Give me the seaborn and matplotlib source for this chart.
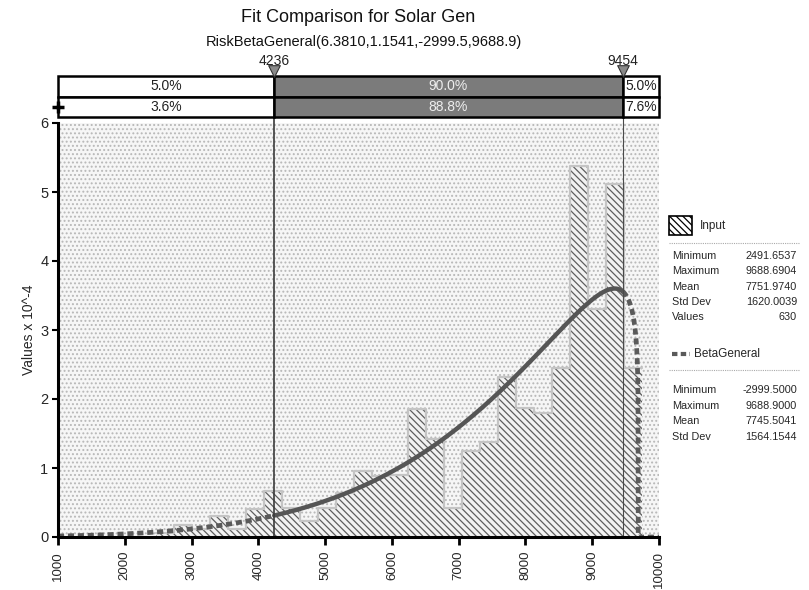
import math
import numpy as np
import pandas as pd
import matplotlib
matplotlib.use("Agg")
import matplotlib.pyplot as plt
from matplotlib.patches import Rectangle
from matplotlib.lines import Line2D
import seaborn as sns

sns.set_theme(style="white")
plt.rcParams['font.family'] = ['Liberation Sans', 'DejaVu Sans']
plt.rcParams['hatch.linewidth'] = 0.9

# ---- data -------------------------------------------------------------
# Input sample histogram: bin edges and density (x 10^-4)
bin_edges = [2475, 2744, 3013, 3282, 3551, 3821, 4090, 4359, 4628, 4897,
             5166, 5435, 5704, 5973, 6243, 6512, 6781, 7050, 7319, 7588,
             7857, 8126, 8395, 8664, 8933, 9202, 9471, 9741]
input_density = [0.06, 0.18, 0.12, 0.30, 0.12, 0.40, 0.66, 0.42, 0.23,
                 0.42, 0.64, 0.96, 0.88, 0.90, 1.85, 1.42, 0.42, 1.25,
                 1.37, 2.32, 1.87, 1.80, 2.45, 5.38, 3.30, 5.12, 2.45]

# Fitted distribution: RiskBetaGeneral(alpha, beta, min, max)
beta_params = [6.3810, 1.1541, -2999.5, 9688.9]

# 5% / 95% quantiles of the fit and the probabilities between them
quantiles = [4236, 9454]
fit_pcts = ["5.0%", "90.0%", "5.0%"]
input_pcts = ["3.6%", "88.8%", "7.6%"]

x_ticks = [1000, 2000, 3000, 4000, 5000, 6000, 7000, 8000, 9000, 10000]
y_ticks = [0, 1, 2, 3, 4, 5, 6]

input_stats = [("Minimum", "2491.6537"), ("Maximum", "9688.6904"),
               ("Mean", "7751.9740"), ("Std Dev", "1620.0039"),
               ("Values", "630")]
fit_stats = [("Minimum", "-2999.5000"), ("Maximum", "9688.9000"),
             ("Mean", "7745.5041"), ("Std Dev", "1564.1544")]

title = "Fit Comparison for Solar Gen"
subtitle = "RiskBetaGeneral(6.3810,1.1541,-2999.5,9688.9)"

# ---- figure -----------------------------------------------------------
W, H = 809, 590
fig = plt.figure(figsize=(W / 100, H / 100), dpi=100)
fig.patch.set_facecolor("white")


def fx(px):
    return px / W


def fy(py):
    return 1 - py / H


X0, X1, YT, YB = 58, 659, 123, 537
ax = fig.add_axes([fx(X0), fy(YB), (X1 - X0) / W, (YB - YT) / H])
ax.set_xlim(1000, 10000)
ax.set_ylim(0, 6)

# stippled plot background
ax.add_patch(Rectangle((0, 0), 1, 1, transform=ax.transAxes,
                       facecolor="#f6f6f6", edgecolor="#b8b8b8",
                       hatch="....", lw=0, zorder=0))
ax.patch.set_alpha(0)

# histogram of the input values
centers = [(a + b) / 2 for a, b in zip(bin_edges[:-1], bin_edges[1:])]
hist_df = pd.DataFrame({"value": centers, "density": input_density})
sns.histplot(data=hist_df, x="value", weights="density", bins=bin_edges,
             stat="count", element="bars", fill=True, ax=ax,
             facecolor="#f2f2f2", edgecolor="#5e5e5e", hatch="\\\\\\\\\\",
             linewidth=0, alpha=1, zorder=2)
sns.histplot(data=hist_df, x="value", weights="density", bins=bin_edges,
             stat="count", element="step", fill=False, ax=ax,
             color="#c4c4c4", linewidth=1.6, zorder=3)

# fitted BetaGeneral density, scaled to x 10^-4
a, b, lo, hi = beta_params
log_beta = math.lgamma(a) + math.lgamma(b) - math.lgamma(a + b)
xs = np.concatenate([np.linspace(1000, hi, 2400), [hi]])
u = np.clip((xs - lo) / (hi - lo), 1e-12, 1 - 1e-9)
pdf = np.exp((a - 1) * np.log(u) + (b - 1) * np.log(1 - u) - log_beta) / (hi - lo) * 1e4
pdf[-1] = 0.0
curve = pd.DataFrame({"x": xs, "y": pdf})
inside = curve[(curve.x >= quantiles[0]) & (curve.x <= quantiles[1])]
left = curve[curve.x <= quantiles[0]]
right = pd.concat([curve[curve.x >= quantiles[1]],
                   pd.DataFrame({"x": [10000], "y": [0.0]})])
sns.lineplot(data=inside, x="x", y="y", ax=ax, color="#555555", lw=3.2,
             zorder=5, sort=False, estimator=None)
for part in (left, right):
    sns.lineplot(data=part, x="x", y="y", ax=ax, color="#5a5a5a", lw=3.4,
                 zorder=5, sort=False, estimator=None,
                 linestyle=(0, (1.3, 0.8)))

# quantile markers running from the probability bar to the axis
xt = ax.get_xaxis_transform()
top_frac = (YB - 76) / (YB - YT)
ax.vlines(quantiles[0], 0, top_frac, transform=xt, color="#3a3a3a",
          lw=1.2, clip_on=False, zorder=6)
ax.vlines(quantiles[1], 0, top_frac, transform=xt, color="#4a4a4a",
          lw=0.8, clip_on=False, zorder=6)

# axes styling
for side in ("top", "right"):
    ax.spines[side].set_visible(False)
for side in ("left", "bottom"):
    ax.spines[side].set_color("black")
    ax.spines[side].set_linewidth(2.2)
    ax.spines[side].set_zorder(8)
ax.set_xticks(x_ticks)
ax.set_xticklabels([str(t) for t in x_ticks], rotation=90, fontsize=9.5)
ax.set_yticks(y_ticks)
ax.set_yticklabels([str(t) for t in y_ticks], fontsize=10.5)
ax.tick_params(axis="x", direction="out", length=6, width=2, color="black",
               pad=4, bottom=True)
ax.tick_params(axis="y", direction="out", length=4, width=1.5, color="black",
               pad=3, left=True)
ax.set_xlabel("")
ax.set_ylabel("Values x 10^-4", fontsize=10, labelpad=3)
ax.grid(False)

# ---- probability bars above the plot ---------------------------------
bar_ax = fig.add_axes([fx(X0), fy(117), (X1 - X0) / W, (117 - 76) / H])
bar_ax.set_xlim(1000, 10000)
bar_ax.set_ylim(0, 2)
bar_ax.axis("off")
seg_left = [1000, quantiles[0], quantiles[1]]
seg_width = [quantiles[0] - 1000, quantiles[1] - quantiles[0], 10000 - quantiles[1]]
seg_color = ["white", "#7b7b7b", "white"]
txt_color = ["#222222", "#eeeeee", "#222222"]
for row_y, pcts in ((1.5, fit_pcts), (0.5, input_pcts)):
    bar_ax.barh([row_y] * 3, seg_width, left=seg_left, height=1.0,
                color=seg_color, edgecolor="black", linewidth=1.8,
                clip_on=False)
    for l, w, p, c in zip(seg_left, seg_width, pcts, txt_color):
        bar_ax.text(l + w / 2, row_y, p, ha="center", va="center",
                    fontsize=10, color=c)
bar_ax.plot([1000], [0.5], marker="+", ms=9, mew=2.5, color="black",
            clip_on=False)
bar_ax.scatter(quantiles, [2.22, 2.22], marker="v", s=70, color="#8a8a8a",
               edgecolor="#333333", linewidth=0.8, clip_on=False, zorder=5)
for q in quantiles:
    bar_ax.text(q, 2.38, str(q), ha="center", va="bottom", fontsize=10,
                color="#222222")

# ---- titles -----------------------------------------------------------
fig.text(fx(358), fy(18), title, ha="center", va="center", fontsize=13,
         color="#111111")
fig.text(fx(364), fy(42), subtitle, ha="center", va="center", fontsize=10.5,
         color="#111111")

# ---- legend / statistics ---------------------------------------------
fig.patches.append(Rectangle((fx(669), fy(235)), 23 / W, 19 / H,
                             transform=fig.transFigure, facecolor="white",
                             edgecolor="black", hatch="\\\\\\\\\\", lw=1.2))
fig.text(fx(700), fy(226), "Input", ha="left", va="center", fontsize=8.5)
fig.lines.append(Line2D([fx(669), fx(800)], [fy(243), fy(243)],
                        transform=fig.transFigure, color="#aaaaaa", lw=0.8,
                        linestyle=(0, (1, 1))))
for i, (k, v) in enumerate(input_stats):
    yy = 256 + i * 15.3
    fig.text(fx(672), fy(yy), k, ha="left", va="center", fontsize=7.8)
    fig.text(fx(797), fy(yy), v, ha="right", va="center", fontsize=7.8)

fig.lines.append(Line2D([fx(672), fx(690)], [fy(354), fy(354)],
                        transform=fig.transFigure, color="#5a5a5a", lw=3,
                        linestyle=(0, (1.3, 0.8))))
fig.text(fx(694), fy(354), "BetaGeneral", ha="left", va="center", fontsize=8.5)
fig.lines.append(Line2D([fx(669), fx(800)], [fy(370), fy(370)],
                        transform=fig.transFigure, color="#aaaaaa", lw=0.8,
                        linestyle=(0, (1, 1))))
for i, (k, v) in enumerate(fit_stats):
    yy = 390 + i * 15.7
    fig.text(fx(672), fy(yy), k, ha="left", va="center", fontsize=7.8)
    fig.text(fx(797), fy(yy), v, ha="right", va="center", fontsize=7.8)

fig.savefig("out.png", dpi=100, facecolor="white")
